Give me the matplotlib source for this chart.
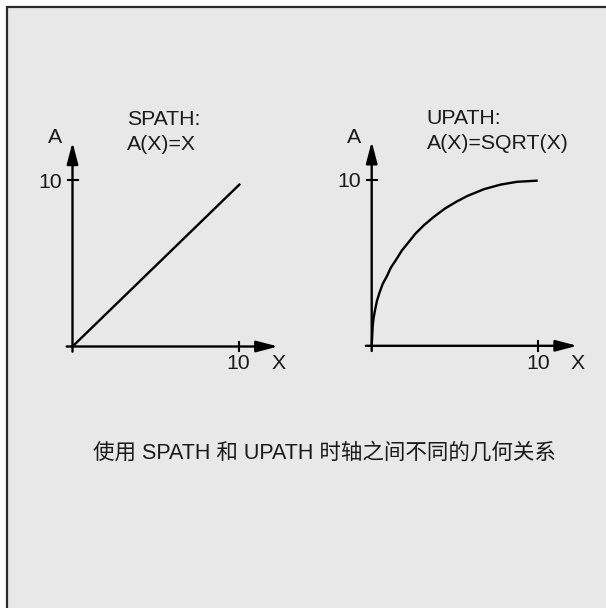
import numpy as np
import matplotlib
matplotlib.rcParams["font.family"] = ["Liberation Sans", "Noto Sans CJK SC", "DejaVu Sans"]
import matplotlib.pyplot as plt
from matplotlib.patches import Rectangle

# data
linear_x = [0.0, 10.1]
linear_a = [0.0, 9.8]

sqrt_x = [0.0, 0.03, 0.06, 0.12, 0.21, 0.32, 0.47, 0.66, 0.92, 1.16, 1.48,
          1.81, 2.19, 2.62, 3.13, 3.72, 4.40, 5.10, 5.75, 6.75, 7.76,
          8.76, 10.0]
sqrt_a = [0.0, 0.6, 1.2, 1.71, 2.2, 2.72, 3.2, 3.72, 4.2, 4.72, 5.2,
          5.73, 6.2, 6.74, 7.25, 7.75, 8.26, 8.68, 9.02, 9.43, 9.71,
          9.88, 9.95]

titles = ["SPATH:", "UPATH:"]
formulas = ["A(X)=X", "A(X)=SQRT(X)"]
tick_value = 10
caption = "使用 SPATH 和 UPATH 时轴之间不同的几何关系"

W, H = 606, 608
unit = 16.6          # pixels per data unit
xmin, xmax = -2.0, 13.5
ymin, ymax = -2.0, 13.5
ink = "#1a1a1a"
fs = 15.3


def panel_rect(ox, oy):
    # ox, oy: pixel position of the origin, oy measured from the top
    return [(ox + xmin * unit) / W,
            (H - (oy - ymin * unit)) / H,
            (xmax - xmin) * unit / W,
            (ymax - ymin) * unit / H]


def draw_axes(ax):
    arrow = dict(arrowstyle="-|>,head_length=1.3,head_width=0.34",
                 mutation_scale=10, color="black", lw=1.7,
                 shrinkA=0, shrinkB=0)
    ax.annotate("", xy=(12.38, 0), xytext=(-0.35, 0), arrowprops=arrow)
    ax.annotate("", xy=(0, 12.3), xytext=(0, -0.31), arrowprops=arrow)
    ax.plot([-0.27, 0.31], [tick_value, tick_value], color="black", lw=1.5)
    ax.plot([tick_value, tick_value], [-0.3, 0.3], color="black", lw=1.5)
    ax.text(-1.07, 12.24, "A", fontsize=fs, color=ink, ha="center", va="baseline")
    ax.text(-0.66, 9.55, str(tick_value), fontsize=fs, color=ink,
            ha="right", va="baseline")
    ax.text(tick_value, -1.37, str(tick_value), fontsize=fs, color=ink,
            ha="center", va="baseline")
    ax.text(12.4, -1.37, "X", fontsize=fs, color=ink, ha="center", va="baseline")


fig = plt.figure(figsize=(W / 100, H / 100), dpi=100)
fig.patch.set_facecolor("white")
fig.patches.append(Rectangle((7 / W, -0.05), 1.1, 601 / H + 0.05,
                             transform=fig.transFigure, facecolor="#e8e8e8",
                             edgecolor="#2b2b2b", lw=1.6, zorder=-1))

ax1 = fig.add_axes(panel_rect(72.5, 346.5))
ax2 = fig.add_axes(panel_rect(371.7, 345.8))

for ax, xs, ys, title, formula in [(ax1, linear_x, linear_a, titles[0], formulas[0]),
                                   (ax2, sqrt_x, sqrt_a, titles[1], formulas[1])]:
    ax.set_xlim(xmin, xmax)
    ax.set_ylim(ymin, ymax)
    ax.axis("off")
    draw_axes(ax)
    ax.plot(xs, ys, color="black", lw=1.7, solid_capstyle="butt",
            solid_joinstyle="round")
    ax.text(3.3, 13.35, title, fontsize=fs, color=ink, ha="left", va="baseline")
    ax.text(3.3, 11.84, formula, fontsize=fs, color=ink, ha="left", va="baseline")

fig.text(324.7 / W, (H - 458.8) / H, caption, fontsize=15.5, color=ink,
         ha="center", va="baseline")

plt.savefig("out.png", dpi=100)
